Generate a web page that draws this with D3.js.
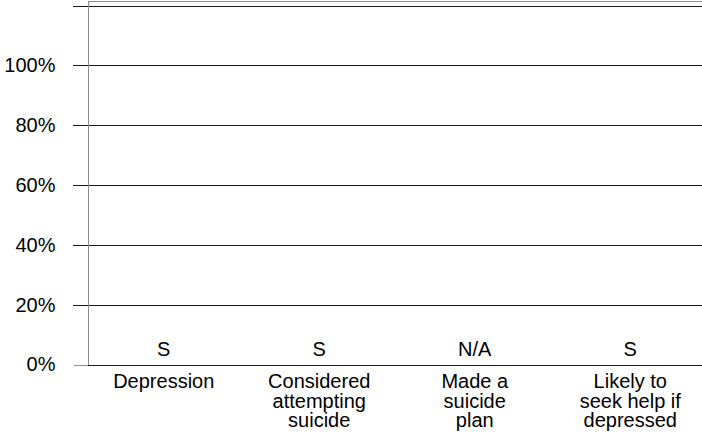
<!DOCTYPE html>
<html>
<head>
<meta charset="utf-8">
<script src="https://cdn.jsdelivr.net/npm/d3@7"></script>
<style>
  html, body { margin: 0; padding: 0; background: #fff; }
  svg { display: block; font-family: "Liberation Sans", Arial, sans-serif; }
</style>
</head>
<body>
<svg id="chart" width="702" height="435"></svg>
<script>
const categories = [
  ["Depression"],
  ["Considered", "attempting", "suicide"],
  ["Made a", "suicide", "plan"],
  ["Likely to", "seek help if", "depressed"]
];
const values = [null, null, null, null];          // suppressed / not available
const valueLabels = ["S", "S", "N/A", "S"];
const yTicks = [0, 20, 40, 60, 80, 100, 120];
const yTickLabels = ["0%", "20%", "40%", "60%", "80%", "100%", ""];

(function () {
const svg = d3.select("#chart");
const W = 702;
const FS = 20;
const plotLeft = 88, plotTop = 5.5, plotBottom = 364.5;

const x = d3.scaleBand()
  .domain(categories.map((d, i) => i))
  .range([86, 708])
  .padding(0);

const y = d3.scaleLinear().domain([0, 120]).range([plotBottom, plotTop]);

// top frame line (gray)
svg.append("line")
  .attr("x1", plotLeft).attr("x2", W)
  .attr("y1", 1.5).attr("y2", 1.5)
  .attr("stroke", "#8c8c8c").attr("stroke-width", 1.2);

// gridlines
svg.append("g").selectAll("line")
  .data(yTicks.filter(t => t > 0))
  .join("line")
  .attr("x1", 73).attr("x2", W)
  .attr("y1", d => Math.round(y(d)) + 0.5)
  .attr("y2", d => Math.round(y(d)) + 0.5)
  .attr("stroke", "#1a1a1a").attr("stroke-width", 1)
  .attr("shape-rendering", "crispEdges");

// y axis via d3.axisLeft
const yAxis = d3.axisLeft(y)
  .tickValues(yTicks)
  .tickSize(15)
  .tickPadding(18)
  .tickFormat((d, i) => yTickLabels[i]);

const gy = svg.append("g")
  .attr("transform", `translate(${plotLeft + 0.5},0)`)
  .call(yAxis);
gy.select(".domain").remove();
gy.selectAll(".tick line").attr("stroke", "#8c8c8c").attr("shape-rendering", "crispEdges");
gy.selectAll(".tick").filter(d => d > 0).select("line").remove();
gy.selectAll(".tick text")
  .attr("font-size", FS)
  .attr("fill", "#000")
  .attr("font-family", "Liberation Sans, Arial, sans-serif");

// left axis line (gray)
svg.append("line")
  .attr("x1", plotLeft + 0.5).attr("x2", plotLeft + 0.5)
  .attr("y1", 1).attr("y2", Math.round(y(0)) + 0.5)
  .attr("stroke", "#8c8c8c").attr("stroke-width", 1.2)
  .attr("shape-rendering", "crispEdges");

// baseline (dark)
svg.append("line")
  .attr("x1", plotLeft).attr("x2", W)
  .attr("y1", Math.round(y(0)) + 0.5).attr("y2", Math.round(y(0)) + 0.5)
  .attr("stroke", "#1a1a1a").attr("stroke-width", 1.3)
  .attr("shape-rendering", "crispEdges");

// bars (values suppressed: none drawn)
svg.append("g").selectAll("rect")
  .data(values.map((v, i) => ({ v, i })).filter(d => d.v != null))
  .join("rect")
  .attr("x", d => x(d.i) + x.bandwidth() * 0.2)
  .attr("width", x.bandwidth() * 0.6)
  .attr("y", d => y(d.v))
  .attr("height", d => y(0) - y(d.v))
  .attr("fill", "#888");

// value labels
svg.append("g").selectAll("text")
  .data(valueLabels)
  .join("text")
  .attr("x", (d, i) => x(i) + x.bandwidth() / 2)
  .attr("y", 356)
  .attr("text-anchor", "middle")
  .attr("font-size", FS)
  .attr("fill", "#000")
  .text(d => d);

// category labels
const cat = svg.append("g").selectAll("text")
  .data(categories)
  .join("text")
  .attr("x", (d, i) => x(i) + x.bandwidth() / 2)
  .attr("y", 388)
  .attr("text-anchor", "middle")
  .attr("font-size", FS)
  .attr("fill", "#000");
cat.selectAll("tspan")
  .data(d => d)
  .join("tspan")
  .attr("x", function () { return d3.select(this.parentNode).attr("x"); })
  .attr("dy", (d, j) => j === 0 ? 0 : 19.6)
  .text(d => d);
})();
</script>
</body>
</html>
